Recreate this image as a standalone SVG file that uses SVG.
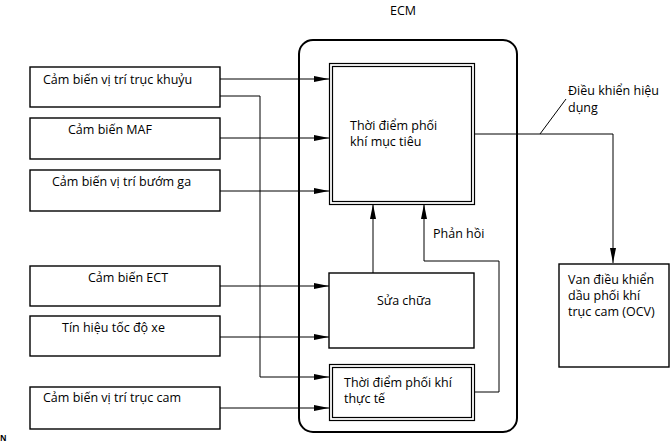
<svg xmlns="http://www.w3.org/2000/svg" width="670" height="445" viewBox="0 0 670 445">
<defs>
<marker id="ah" viewBox="0 0 15 6" refX="15" refY="3" markerWidth="15" markerHeight="6" markerUnits="userSpaceOnUse" orient="auto">
<path d="M0,0 L15,3 L0,6 Z" fill="#000"/>
</marker>
</defs>
<style>
text{font-family:"Open Sans","Liberation Sans",sans-serif;font-size:12.5px;fill:#000}
.box{fill:#fff;stroke:#000;stroke-width:1.4}
.dbl{fill:none;stroke:#000;stroke-width:1.2}
.ln{fill:none;stroke:#000;stroke-width:1}
.ar{fill:none;stroke:#000;stroke-width:1;marker-end:url(#ah)}
</style>
<rect width="670" height="445" fill="#fff"/>
<g id="ecm">
<rect x="299" y="40" width="218" height="392" rx="14" ry="14" fill="none" stroke="#000" stroke-width="2"/>
<text x="403" y="15" text-anchor="middle">ECM</text>
</g>
<g id="connectors">
<path class="ar" d="M220,79 H329"/>
<path class="ar" d="M220,96 H260 V377 H329"/>
<path class="ar" d="M220,138 H329"/>
<path class="ar" d="M220,191 H329"/>
<path class="ar" d="M220,286 H329"/>
<path class="ar" d="M220,337 H329"/>
<path class="ar" d="M220,408 H329"/>
<path class="ar" d="M373,273 V204"/>
<path class="ar" d="M474,392 H499 V261 H424 V204"/>
<path class="ar" d="M474,134 H613 V263"/>
<path class="ln" d="M540,134 L566,99"/>
</g>
<g id="n1">
<rect class="box" x="30" y="67" width="190" height="40"/>
<text x="43" y="84">Cảm biến vị trí trục khuỷu</text>
</g>
<g id="n2">
<rect class="box" x="30" y="118" width="190" height="41"/>
<text x="68" y="134">Cảm biến MAF</text>
</g>
<g id="n3">
<rect class="box" x="30" y="170" width="190" height="41"/>
<text x="52" y="186">Cảm biến vị trí bướm ga</text>
</g>
<g id="n4">
<rect class="box" x="30" y="266" width="190" height="40"/>
<text x="88" y="282">Cảm biến ECT</text>
</g>
<g id="n5">
<rect class="box" x="30" y="316" width="190" height="40"/>
<text x="62" y="332">Tín hiệu tốc độ xe</text>
</g>
<g id="n6">
<rect class="box" x="30" y="387" width="190" height="42"/>
<text x="43" y="402">Cảm biến vị trí trục cam</text>
</g>
<g id="target">
<rect x="329.5" y="63.5" width="145" height="141" fill="#fff" class="dbl"/>
<rect x="332.5" y="66.5" width="139" height="135" class="dbl"/>
<text x="350" y="130">Thời điểm phối</text>
<text x="350" y="146">khí mục tiêu</text>
</g>
<g id="repair">
<rect class="box" x="329" y="273" width="145" height="75"/>
<text x="377" y="305">Sửa chữa</text>
</g>
<g id="actual">
<rect x="329.5" y="364.5" width="145" height="56" fill="#fff" class="dbl"/>
<rect x="332.5" y="367.5" width="139" height="50" class="dbl"/>
<text x="344" y="387">Thời điểm phối khí</text>
<text x="344" y="403">thực tế</text>
</g>
<g id="ocv">
<rect class="box" x="559" y="264" width="110" height="103"/>
<text x="568" y="284">Van điều khiển</text>
<text x="568" y="300">dầu phối khí</text>
<text x="568" y="316">trục cam (OCV)</text>
</g>
<g id="labels">
<text x="568" y="95">Điều khiển hiệu</text>
<text x="568" y="112">dụng</text>
<text x="433" y="238">Phản hồi</text>
<text x="0" y="441" style="font-size:8px;font-weight:bold">N</text>
</g>
</svg>
